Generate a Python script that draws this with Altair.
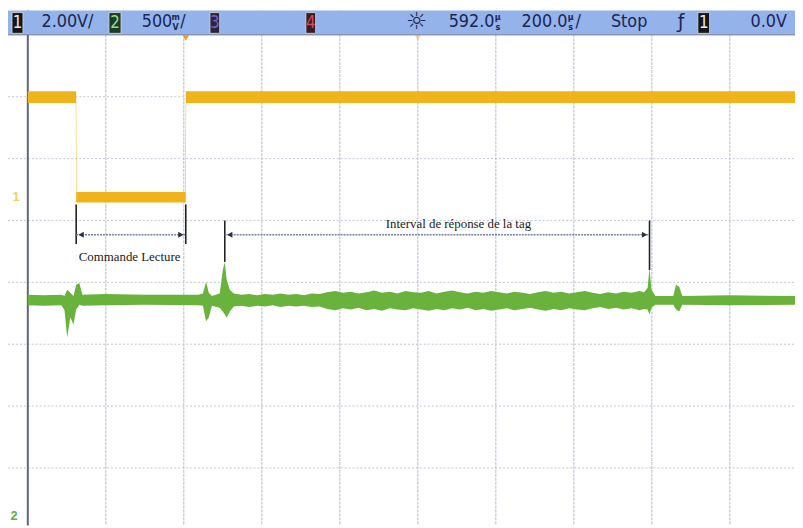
import altair as alt
import pandas as pd

# Horizontal unit: microseconds from the left graticule edge (200 us/div).
# Vertical unit: graticule divisions counted from the bottom edge (8 divisions).
X_DOMAIN = [-50.8, 1967]
Y_DOMAIN = [0.072, 8.392]
W, H = 795, 520

grid_t = [200, 400, 600, 800, 1000, 1200, 1400, 1600, 1800]
grid_d = [1, 2, 3, 4, 5, 6, 7]

# Channel 1 (yellow) trace envelope
ch1_t = [0, 123, 124, 125, 404, 405, 406, 1967]
ch1_hi = [7.09, 7.09, 7.09, 5.46, 5.46, 7.09, 7.09, 7.09]
ch1_lo = [6.90, 6.90, 5.29, 5.29, 5.29, 5.29, 6.90, 6.90]

# Channel 2 (green) trace envelope: before the tag response
ch2a_t = [0, 40, 86, 94, 101, 109, 117, 124, 132, 140, 200, 300, 437, 449, 457, 464, 472, 492, 500, 505, 510, 518]
ch2a_hi = [3.80, 3.79, 3.80, 3.78, 3.88, 3.83, 3.78, 3.96, 3.99, 3.80, 3.81, 3.80, 3.80, 3.82, 4.01, 3.83, 3.78, 3.82, 4.20, 4.33, 4.04, 3.88]
ch2a_lo = [3.63, 3.62, 3.63, 3.55, 3.11, 3.43, 3.32, 3.56, 3.64, 3.62, 3.63, 3.64, 3.63, 3.62, 3.37, 3.43, 3.62, 3.59, 3.53, 3.48, 3.43, 3.53]

# tag response region
ch2b_t = [528, 548, 568, 588, 608, 628, 648, 668, 688, 708,
          728, 748, 768, 788, 808, 828, 848, 868, 888, 908,
          928, 948, 968, 988, 1008, 1028, 1048, 1068, 1088, 1108,
          1128, 1148, 1168, 1188, 1208, 1228, 1248, 1268, 1288, 1308,
          1328, 1348, 1368, 1388, 1408, 1428, 1448, 1468, 1488, 1508,
          1528, 1548, 1568, 1580]
ch2b_hi = [3.82, 3.80, 3.81, 3.79, 3.81, 3.80, 3.82, 3.80, 3.81, 3.79,
           3.82, 3.81, 3.84, 3.86, 3.83, 3.85, 3.82, 3.84, 3.87, 3.83,
           3.85, 3.82, 3.86, 3.84, 3.83, 3.86, 3.82, 3.85, 3.87, 3.84,
           3.82, 3.85, 3.83, 3.86, 3.84, 3.82, 3.85, 3.83, 3.81, 3.84,
           3.86, 3.83, 3.85, 3.82, 3.84, 3.86, 3.83, 3.81, 3.84, 3.82,
           3.85, 3.83, 3.86, 3.84]
ch2b_lo = [3.61, 3.62, 3.60, 3.62, 3.61, 3.63, 3.60, 3.62, 3.61, 3.62,
           3.60, 3.61, 3.57, 3.55, 3.58, 3.56, 3.59, 3.55, 3.57, 3.54,
           3.58, 3.56, 3.55, 3.58, 3.56, 3.54, 3.57, 3.55, 3.58, 3.56,
           3.59, 3.55, 3.57, 3.54, 3.56, 3.58, 3.55, 3.57, 3.59, 3.56,
           3.54, 3.57, 3.55, 3.58, 3.56, 3.55, 3.58, 3.60, 3.57, 3.59,
           3.56, 3.58, 3.55, 3.57]

# after the response
ch2c_t = [1589, 1594, 1599, 1609, 1655, 1662, 1670, 1678, 1800, 1967]
ch2c_hi = [3.91, 4.23, 3.88, 3.78, 3.78, 3.96, 3.93, 3.78, 3.79, 3.78]
ch2c_lo = [3.56, 3.48, 3.59, 3.64, 3.64, 3.56, 3.53, 3.64, 3.63, 3.64]

# Header bar contents
hdr_labels = ["2.00V/", "500", "/", "592.0", "200.0", "/", "Stop", "0.0V"]
hdr_label_t = [35, 292, 391, 1079, 1266, 1404, 1495, 1853]
unit_top = ["m", "µ", "µ"]
unit_bot = ["V", "s", "s"]
unit_t = [379, 1205, 1392]
box_nums = ["1", "2", "3", "4", "1"]
box_t0 = [-40.5, 208, 467, 713, 1718]
box_t1 = [-12.5, 239, 492, 738, 1748]
box_fill = ["#161616", "#1f3b24", "#2a2538", "#3b1c25", "#161616"]
box_text = ["#ececec", "#92dc8c", "#7b5fc8", "#d24a5a", "#ececec"]

# Annotations
span_labels = ["Commande Lecture", "Interval de réponse de la tag"]
span_start = [124, 505]
span_end = [405, 1594]
span_label_t = [261, 1104]
span_label_d = [4.41, 4.94]
span_arrow_d = [4.77, 4.77]
marker_t = [124, 405, 505, 1594]
marker_top = [5.26, 5.26, 5.00, 5.00]
marker_bot = [4.62, 4.62, 4.33, 4.20]

xs = alt.Scale(domain=X_DOMAIN, nice=False, zero=False)
ys = alt.Scale(domain=Y_DOMAIN, nice=False, zero=False)


def X(f):
    return alt.X(f, type="quantitative", scale=xs, axis=None)


def Y(f):
    return alt.Y(f, type="quantitative", scale=ys, axis=None)


HDR_TOP, HDR_BOT = Y_DOMAIN[1], 8.0
HDR_MID = 8.21
HDR_FONT = "Liberation Sans Narrow, DejaVu Sans Condensed, Liberation Sans, sans-serif"
HDR_COLOR = "#1b2552"

# header bar
hdr_df = pd.DataFrame({"t0": [X_DOMAIN[0]], "t1": [X_DOMAIN[1]], "d0": [HDR_BOT], "d1": [HDR_TOP]})
header = alt.Chart(hdr_df).mark_rect(color="#93b3ea").encode(x=X("t0"), x2="t1", y=Y("d0"), y2="d1")
header_edge = alt.Chart(hdr_df).mark_rule(color="#6f7896", strokeWidth=1).encode(x=X("t0"), x2="t1", y=Y("d0"))

# graticule
vg = alt.Chart(pd.DataFrame({"t": grid_t})).mark_rule(color="#b5b8cd", strokeWidth=1, strokeDash=[3, 1]).encode(
    x=X("t"), y=alt.value(0), y2=alt.value(H))
hg = alt.Chart(pd.DataFrame({"d": grid_d})).mark_rule(color="#c3c5d8", strokeWidth=1, strokeDash=[2, 2]).encode(
    y=Y("d"), x=alt.value(0), x2=alt.value(W))
border = alt.Chart(pd.DataFrame({"t": [0]})).mark_rule(color="#5f6380", strokeWidth=2).encode(
    x=X("t"), y=alt.value(0), y2=alt.value(H))

# traces
ch1 = alt.Chart(pd.DataFrame({"t": ch1_t, "hi": ch1_hi, "lo": ch1_lo})).mark_area(
    color="#efb31c", clip=True).encode(x=X("t"), y=Y("hi"), y2="lo")

g_df = pd.DataFrame({
    "t": ch2a_t + ch2b_t + ch2c_t,
    "hi": ch2a_hi + ch2b_hi + ch2c_hi,
    "lo": ch2a_lo + ch2b_lo + ch2c_lo,
})
ch2 = alt.Chart(g_df).mark_area(color="#69b23c", clip=True).encode(x=X("t"), y=Y("hi"), y2="lo")

# annotations
mk_df = pd.DataFrame({"t": marker_t, "top": marker_top, "bot": marker_bot})
markers = alt.Chart(mk_df).mark_rule(color="#222222", strokeWidth=1.6).encode(x=X("t"), y=Y("top"), y2="bot")

sp_df = pd.DataFrame({"a": span_start, "b": span_end, "d": span_arrow_d,
                      "lab": span_labels, "lt": span_label_t, "ld": span_label_d})
arrows = alt.Chart(sp_df).mark_rule(color="#76809f", strokeWidth=1.5, strokeDash=[2, 1]).encode(
    x=X("a"), x2="b", y=Y("d"))
head_l = alt.Chart(sp_df).mark_point(shape="triangle-left", filled=True, color="#2b2f3f", size=38, opacity=1).encode(
    x=X("a"), y=Y("d"), xOffset=alt.value(5))
head_r = alt.Chart(sp_df).mark_point(shape="triangle-right", filled=True, color="#2b2f3f", size=38, opacity=1).encode(
    x=X("b"), y=Y("d"), xOffset=alt.value(-5))
span_text = alt.Chart(sp_df).mark_text(font="Liberation Serif", fontSize=13, color="#1a1a1a",
                                        align="center", baseline="middle").encode(
    x=X("lt"), y=Y("ld"), text="lab")

# header texts and boxes
lab_df = pd.DataFrame({"t": hdr_label_t, "lab": hdr_labels, "d": [HDR_MID] * len(hdr_labels)})
hdr_text = alt.Chart(lab_df).mark_text(
    font=HDR_FONT, fontSize=18, color=HDR_COLOR, align="left", baseline="middle").encode(
    x=X("t"), y=Y("d"), text="lab")

unit_df = pd.DataFrame({"t": unit_t * 2, "u": unit_top + unit_bot,
                        "d": [8.29] * len(unit_t) + [8.13] * len(unit_t)})
units = alt.Chart(unit_df).mark_text(
    font=HDR_FONT, fontSize=9, fontWeight="bold", color=HDR_COLOR, align="center", baseline="middle").encode(
    x=X("t"), y=Y("d"), text="u")

box_df = pd.DataFrame({"t0": box_t0, "t1": box_t1, "num": box_nums, "fill": box_fill, "tc": box_text,
                       "d0": [8.025] * 5, "d1": [8.36] * 5})
boxes = alt.Chart(box_df).mark_rect(stroke="#d8dcea", strokeWidth=0.8).encode(
    x=X("t0"), x2="t1", y=Y("d0"), y2="d1", fill=alt.Fill("fill:N", scale=None))
box_nums_c = alt.Chart(box_df).mark_text(font=HDR_FONT, fontSize=17, align="center", baseline="middle").encode(
    x=alt.X("tm:Q", scale=xs, axis=None), y=alt.Y("dm:Q", scale=ys, axis=None), text="num",
    color=alt.Color("tc:N", scale=None)).transform_calculate(
    tm="(datum.t0 + datum.t1) / 2", dm="(datum.d0 + datum.d1) / 2")

sym_df = pd.DataFrame({"t": [997, 1675], "s": ["☼", "ƒ"], "d": [HDR_MID, HDR_MID], "fs": [24, 19]})
symbols = alt.Chart(sym_df).mark_text(font="DejaVu Sans", color=HDR_COLOR,
                                      align="center", baseline="middle").encode(
    x=X("t"), y=Y("d"), text="s", size=alt.Size("fs:Q", scale=None))

# trigger markers under the header
trig_df = pd.DataFrame({"t": [405, 1000], "d": [7.95, 7.95], "op": [1.0, 0.35]})
trig = alt.Chart(trig_df).mark_point(shape="triangle-down", filled=True, color="#ef9a2c", size=45).encode(
    x=X("t"), y=Y("d"), opacity=alt.Opacity("op:Q", scale=None))

# channel ground markers at the left
gm_df = pd.DataFrame({"t": [-30, -35], "d": [5.38, 0.22], "s": ["1", "2"], "c": ["#f2cf6a", "#5fae4a"]})
gmark = alt.Chart(gm_df).mark_text(font="Liberation Sans", fontSize=13, fontWeight="bold",
                                   align="center", baseline="middle").encode(
    x=X("t"), y=Y("d"), text="s", color=alt.Color("c:N", scale=None))

chart = alt.layer(
    vg, hg, border, header, header_edge, boxes, box_nums_c, hdr_text, units, symbols, trig,
    ch1, ch2, markers, arrows, head_l, head_r, span_text, gmark,
).properties(
    width=W, height=H, autosize=alt.AutoSizeParams(type="none"), padding=0, background="white"
).configure_view(strokeWidth=0)

chart.save("out.html", embed_options={"renderer": "svg", "actions": False})
